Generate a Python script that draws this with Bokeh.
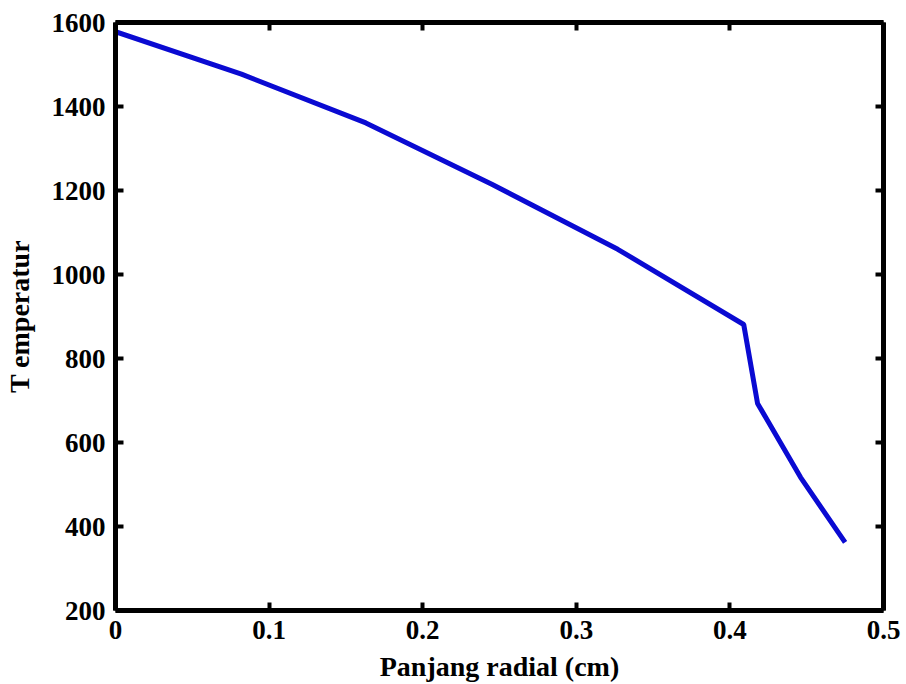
from bokeh.plotting import figure
from bokeh.models import Range1d, LinearAxis, FixedTicker, CustomJSTickFormatter
from bokeh.embed import file_html
from bokeh.resources import INLINE

# data
radius_cm = [0.0, 0.082, 0.163, 0.245, 0.327, 0.409, 0.418, 0.446, 0.475]
temperature = [1578, 1477, 1361, 1215, 1060, 881, 693, 517, 362]
x_ticks = [0, 0.1, 0.2, 0.3, 0.4, 0.5]
y_ticks = [200, 400, 600, 800, 1000, 1200, 1400, 1600]
x_label = "Panjang radial (cm)"
y_label = "T emperatur"

FONT = "Liberation Serif"

p = figure(width=906, height=684, output_backend="svg", toolbar_location=None,
           x_range=Range1d(0, 0.5), y_range=Range1d(200, 1600),
           min_border_left=113, min_border_right=23, min_border_top=22, min_border_bottom=74)
p.grid.visible = False
p.outline_line_color = None

p.line(radius_cm, temperature, line_color="#0a0ad2", line_width=5)

fmt = CustomJSTickFormatter(code="return (Math.round(tick*10)/10).toString();")
blank = CustomJSTickFormatter(code="return '';")

def style(ax, labels=True):
    ax.axis_line_width = 5
    ax.axis_line_color = "black"
    ax.major_tick_in = 8
    ax.major_tick_out = 0
    ax.major_tick_line_width = 4
    ax.minor_tick_line_color = None
    ax.major_label_text_font = FONT
    ax.major_label_text_font_style = "bold"
    ax.major_label_text_font_size = "27px" if labels else "1px"
    ax.major_label_text_color = "black"
    ax.axis_label_text_font = FONT
    ax.axis_label_text_font_style = "bold"
    ax.axis_label_text_font_size = "28px"
    ax.axis_label_text_color = "black"

xa = p.xaxis[0]
xa.ticker = FixedTicker(ticks=x_ticks)
xa.formatter = fmt
xa.axis_label = x_label
xa.major_label_standoff = 10
xa.axis_label_standoff = 9
style(xa)

ya = p.yaxis[0]
ya.ticker = FixedTicker(ticks=y_ticks)
ya.axis_label = y_label
ya.major_label_standoff = 10
ya.axis_label_standoff = 14
style(ya)

top = LinearAxis(ticker=FixedTicker(ticks=x_ticks), formatter=blank, major_label_standoff=0)
style(top, labels=False)
p.add_layout(top, "above")
right = LinearAxis(ticker=FixedTicker(ticks=y_ticks), formatter=blank, major_label_standoff=0)
style(right, labels=False)
p.add_layout(right, "right")

open("out.html", "w").write(file_html(p, INLINE))
